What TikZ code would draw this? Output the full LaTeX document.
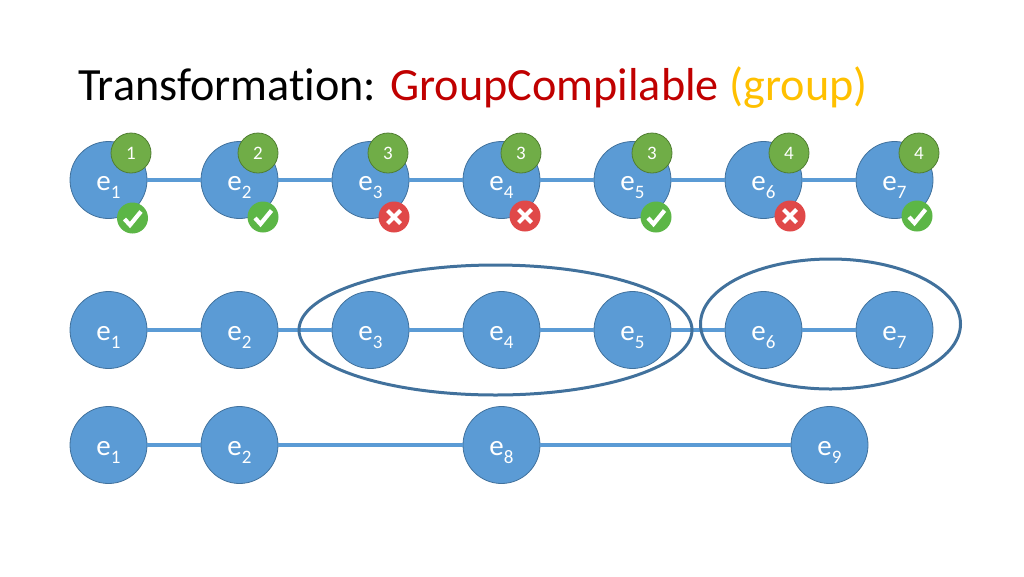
\documentclass[tikz,border=0pt]{standalone}
\usepackage{fontspec}
\setmainfont[Ligatures=NoCommon]{Carlito}
\usetikzlibrary{shapes.geometric}
\definecolor{nodeblue}{HTML}{5B9BD5}
\definecolor{nodeedge}{HTML}{41719C}
\definecolor{ringblue}{HTML}{41719C}
\definecolor{badgegreen}{HTML}{70AD47}
\definecolor{badgeedge}{HTML}{507E32}
\definecolor{okgreen}{HTML}{5CB646}
\definecolor{badred}{HTML}{E04848}
\definecolor{titlered}{HTML}{C00000}
\definecolor{titlegold}{HTML}{FFC000}
\tikzset{
  x=1pt,y=-1pt,
  ev/.style={circle,fill=nodeblue,draw=nodeedge,line width=0.8pt,minimum size=77pt,inner sep=0pt,text=white,text height=20pt,text depth=0pt,font=\fontsize{29}{29}\selectfont},
  link/.style={draw=nodeblue,line width=3.2pt},
  ring/.style={ellipse,draw=ringblue,line width=3pt,inner sep=0pt},
  badge/.style={circle,fill=badgegreen,draw=badgeedge,line width=0.8pt,minimum size=40pt,inner sep=0pt,text=white,font=\fontsize{19}{19}\selectfont},
  okdot/.style={circle,fill=okgreen,minimum size=31pt,inner sep=0pt},
  baddot/.style={circle,fill=badred,minimum size=31pt,inner sep=0pt},
  glyph/.style={draw=white,line width=4.2pt}
}
\newcommand{\lbl}[1]{e\raisebox{-8pt}{\fontsize{19}{19}\selectfont #1}}
\newcommand{\okmark}[1]{\draw[glyph] ([shift={(-8,1)}]#1.center) -- ([shift={(-2.5,7)}]#1.center) -- ([shift={(8.5,-6.5)}]#1.center);}
\newcommand{\badmark}[1]{\draw[glyph] ([shift={(-6.5,-6.5)}]#1.center) -- ([shift={(6.5,6.5)}]#1.center) ([shift={(-6.5,6.5)}]#1.center) -- ([shift={(6.5,-6.5)}]#1.center);}
\begin{document}
\begin{tikzpicture}
\useasboundingbox (0,0) rectangle (1024,576);
\node[anchor=base west,inner sep=0pt,font=\fontsize{46.2}{47}\selectfont] (title) at (78,100) {Transformation: \textcolor{titlered}{GroupCompilable} \textcolor{titlegold}{(group)}};
% row 1
\foreach \n/\x in {1/108.5,2/239.5,3/370.5,4/501.5,5/632.5,6/763.5,7/894.5}
  \node[ev] (a\n) at (\x,180) {\lbl{\n}};
\foreach \p/\q in {1/2,2/3,3/4,4/5,5/6,6/7}
  \draw[link] (a\p) -- (a\q);
\foreach \n/\x/\v in {1/131/1,2/258/2,3/388/3,4/521/3,5/652/3,6/789/4,7/919/4}
  \node[badge] (b\n) at (\x,153) {\v};
\foreach \n/\x/\y in {1/132.5/218,2/263/217,5/656/217,7/917/216}
  {\node[okdot] (k\n) at (\x,\y) {}; \okmark{k\n}}
\foreach \n/\x/\y in {3/394/217,4/525/216,6/790/216}
  {\node[baddot] (k\n) at (\x,\y) {}; \badmark{k\n}}
% row 2
\foreach \n/\x in {1/108.5,2/239.5,3/370.5,4/501.5,5/632.5,6/763.5,7/894.5}
  \node[ev] (c\n) at (\x,330) {\lbl{\n}};
\foreach \p/\q in {1/2,2/3,3/4,4/5,5/6,6/7}
  \draw[link] (c\p) -- (c\q);
\node[ring,minimum width=393pt,minimum height=130pt] (r1) at (495.5,330) {};
\node[ring,minimum width=260pt,minimum height=130pt] (r2) at (830.5,324) {};
% row 3
\foreach \n/\m/\x in {1/1/108.5,2/2/239.5,3/8/501.5,4/9/829.5}
  \node[ev] (d\n) at (\x,445) {\lbl{\m}};
\foreach \p/\q in {1/2,2/3,3/4}
  \draw[link] (d\p) -- (d\q);
\end{tikzpicture}
\end{document}
